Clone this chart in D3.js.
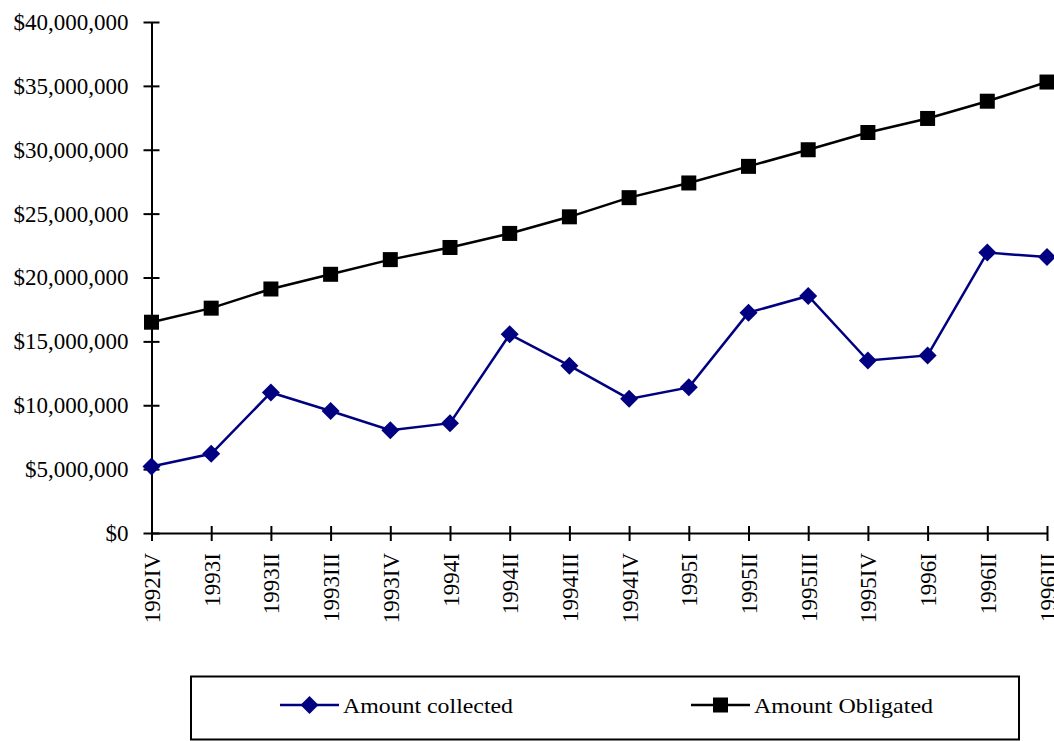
<!DOCTYPE html>
<html>
<head>
<meta charset="utf-8">
<script src="https://cdn.jsdelivr.net/npm/d3@7"></script>
<style>
  html, body { margin: 0; padding: 0; background: #fff; }
  svg { display: block; }
  text { font-family: "Liberation Serif", "Times New Roman", serif; fill: #000; }
</style>
</head>
<body>
<svg id="chart" width="1054" height="741"></svg>
<script>
// Quarterly collections vs. obligations
const quarters = ["1992IV","1993I","1993II","1993III","1993IV","1994I","1994II","1994III",
                  "1994IV","1995I","1995II","1995III","1995IV","1996I","1996II","1996III"];
const amountCollected = [5200000, 6200000, 11000000, 9550000, 8050000, 8600000, 15550000, 13100000,
                         10500000, 11400000, 17250000, 18550000, 13500000, 13900000, 21950000, 21600000];
const amountObligated = [16500000, 17600000, 19100000, 20250000, 21400000, 22350000, 23450000, 24750000,
                         26250000, 27400000, 28700000, 30000000, 31350000, 32450000, 33800000, 35300000];
const yTicks = [0, 5000000, 10000000, 15000000, 20000000, 25000000, 30000000, 35000000, 40000000];
const seriesNames = ["Amount collected", "Amount Obligated"];

const serif = "'Liberation Serif', 'Times New Roman', serif";
const svg = d3.select("#chart");
const x = d3.scalePoint().domain(quarters).range([151.5, 1047]);
const y = d3.scaleLinear().domain([0, 40000000]).range([533, 22]);

// Y axis with crossing tick marks
const yAxis = svg.append("g")
  .attr("transform", "translate(151.5,0)")
  .call(d3.axisLeft(y).tickValues(yTicks).tickFormat(d3.format("$,.0f")).tickSizeOuter(0).tickSizeInner(8).tickPadding(15));
yAxis.attr("font-family", serif);
yAxis.select(".domain").attr("stroke", "#000").attr("stroke-width", 2);
yAxis.selectAll(".tick line").attr("x1", -8).attr("x2", 8).attr("stroke", "#000").attr("stroke-width", 2);
yAxis.selectAll(".tick text").attr("font-size", 23).attr("font-family", serif).attr("fill", "#000");

// X axis with crossing tick marks and vertical labels
const xAxis = svg.append("g")
  .attr("transform", "translate(0,533)")
  .call(d3.axisBottom(x).tickSizeOuter(0).tickSizeInner(0));
xAxis.attr("font-family", serif);
xAxis.select(".domain").attr("stroke", "#000").attr("stroke-width", 2);
xAxis.selectAll(".tick line").attr("y1", -7).attr("y2", 8).attr("stroke", "#000").attr("stroke-width", 2);
xAxis.selectAll(".tick text")
  .attr("font-size", 23)
  .attr("font-family", serif)
  .attr("fill", "#000")
  .attr("text-anchor", "end")
  .attr("transform", "rotate(-90)")
  .attr("x", -20)
  .attr("y", 0)
  .attr("dy", "0.35em");

const line = d3.line().x((d, i) => x(quarters[i])).y(d => y(d));

// Obligated series (black, squares)
svg.append("path").datum(amountObligated)
  .attr("d", line).attr("fill", "none").attr("stroke", "#000").attr("stroke-width", 2.5);
svg.append("g").selectAll("rect").data(amountObligated).join("rect")
  .attr("x", (d, i) => x(quarters[i]) - 7.5)
  .attr("y", d => y(d) - 7.5)
  .attr("width", 15).attr("height", 15).attr("fill", "#000");

// Collected series (navy, diamonds)
const navy = "#000080";
const diamond = "M0,-9L9,0L0,9L-9,0Z";
svg.append("path").datum(amountCollected)
  .attr("d", line).attr("fill", "none").attr("stroke", navy).attr("stroke-width", 2.5);
svg.append("g").selectAll("path").data(amountCollected).join("path")
  .attr("d", diamond)
  .attr("transform", (d, i) => `translate(${x(quarters[i])},${y(d)})`)
  .attr("fill", navy);

// Legend
svg.append("rect").attr("x", 191).attr("y", 676.5).attr("width", 828).attr("height", 63)
  .attr("fill", "none").attr("stroke", "#000").attr("stroke-width", 2);
const legendItems = [
  { name: seriesNames[0], x0: 280, color: navy, marker: "diamond", len: 170 },
  { name: seriesNames[1], x0: 691, color: "#000", marker: "square", len: 179 }
];
const lg = svg.append("g").selectAll("g").data(legendItems).join("g")
  .attr("transform", d => `translate(${d.x0},705)`);
lg.append("line").attr("x1", 0).attr("x2", 59).attr("y1", 0).attr("y2", 0)
  .attr("stroke", d => d.color).attr("stroke-width", 2.5);
lg.filter(d => d.marker === "diamond").append("path")
  .attr("d", diamond).attr("transform", "translate(29.5,0)").attr("fill", navy);
lg.filter(d => d.marker === "square").append("rect")
  .attr("x", 22).attr("y", -7.5).attr("width", 15).attr("height", 15).attr("fill", "#000");
lg.append("text").attr("x", 63).attr("y", 0).attr("dy", "0.35em")
  .attr("font-size", 22).attr("font-family", serif)
  .attr("textLength", d => d.len).attr("lengthAdjust", "spacingAndGlyphs")
  .text(d => d.name);
</script>
</body>
</html>
